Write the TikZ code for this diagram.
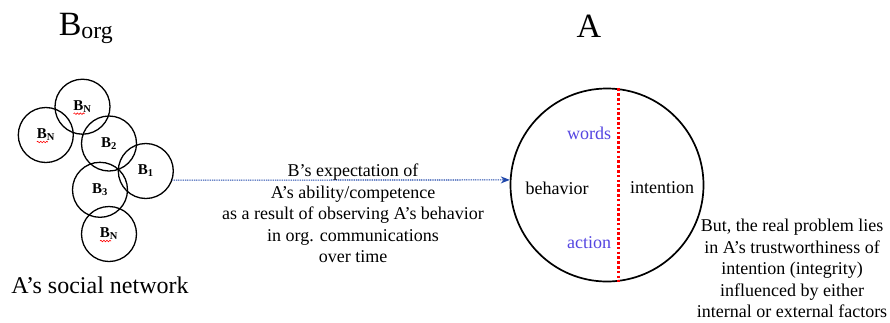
\documentclass[tikz,border=0pt]{standalone}
\usepackage{fontspec}
\setmainfont{Liberation Serif}
\usepackage{xcolor}
\usetikzlibrary{arrows.meta,positioning,decorations.pathmorphing}

\definecolor{cueblue}{RGB}{85,70,225}
\definecolor{flowblue}{RGB}{30,70,170}

\begin{document}
\begin{tikzpicture}[x=1pt, y=-1pt,
    member/.style={draw, circle, line width=1.3pt, minimum size=55pt, inner sep=0pt,
                   font=\fontsize{15}{15}\selectfont\bfseries},
    actor/.style={draw, circle, line width=1.7pt, minimum size=193pt, inner sep=0pt},
    title/.style={font=\fontsize{34}{34}\selectfont, inner sep=0pt},
    note/.style={font=\fontsize{18}{21.6}\selectfont, align=center, inner sep=0pt},
    part/.style={font=\fontsize{18}{18}\selectfont, inner sep=0pt},
    cue/.style={part, text=cueblue},
    flow/.style={-{Stealth[length=9pt,width=7pt]}, draw=flowblue, line width=1.1pt,
                 dash pattern=on 1pt off 0.8pt},
    divider/.style={draw=red, line width=2.8pt, dash pattern=on 2.6pt off 2.2pt},
    squiggle/.style={draw=red, line width=0.6pt, decorate,
                     decoration={snake, amplitude=0.8pt, segment length=3pt}}
]
\useasboundingbox (0,0) rectangle (890,322);

% Social network of B
\node[title, anchor=base] (borg) at (86,35) {B\textsubscript{org}};
\node[member] (nt) at (82.5,106.7) {B\textsubscript{N}};
\node[member] (nl) at (45.8,135) {B\textsubscript{N}};
\node[member] (b2) at (109,143.5) {B\textsubscript{2}};
\node[member] (b1) at (145.8,171) {B\textsubscript{1}};
\node[member] (b3) at (100,189.8) {B\textsubscript{3}};
\node[member] (nb) at (109,234) {B\textsubscript{N}};
\foreach \n in {nt,nl,nb}
  \draw[squiggle] ([xshift=-9pt,yshift=-7pt]\n.center) -- ++(11,0);
\node[font=\fontsize{24}{24}\selectfont, anchor=base, inner sep=0pt] (net) at (100,293)
  {A’s social network};

% A
\node[title, anchor=base] (atitle) at (589,37) {A};
\node[actor] (A) at (607,185) {};
\draw[divider] (A.83) -- (A.-83);
\node[cue] (words) at (589,133) {words};
\node[part] (behav) at (557,188) {behavior};
\node[part] (intent) at (662,188) {intention};
\node[cue] (action) at (589,243) {action};

% Expectation
\draw[flow] (b1.-19) -- (A.177);
\node[note] (expect) at (353,213.5) {B's expectation of\\
  A's ability/competence\\
  as a result of observing A's behavior\\
  in org. communications\\
  over time};

% Annotation
\node[note] (problem) at (792,268.5) {But, the real problem lies\\
  in A's trustworthiness of\\
  intention (integrity)\\
  influenced by either\\
  internal or external factors};

\end{tikzpicture}
\end{document}
